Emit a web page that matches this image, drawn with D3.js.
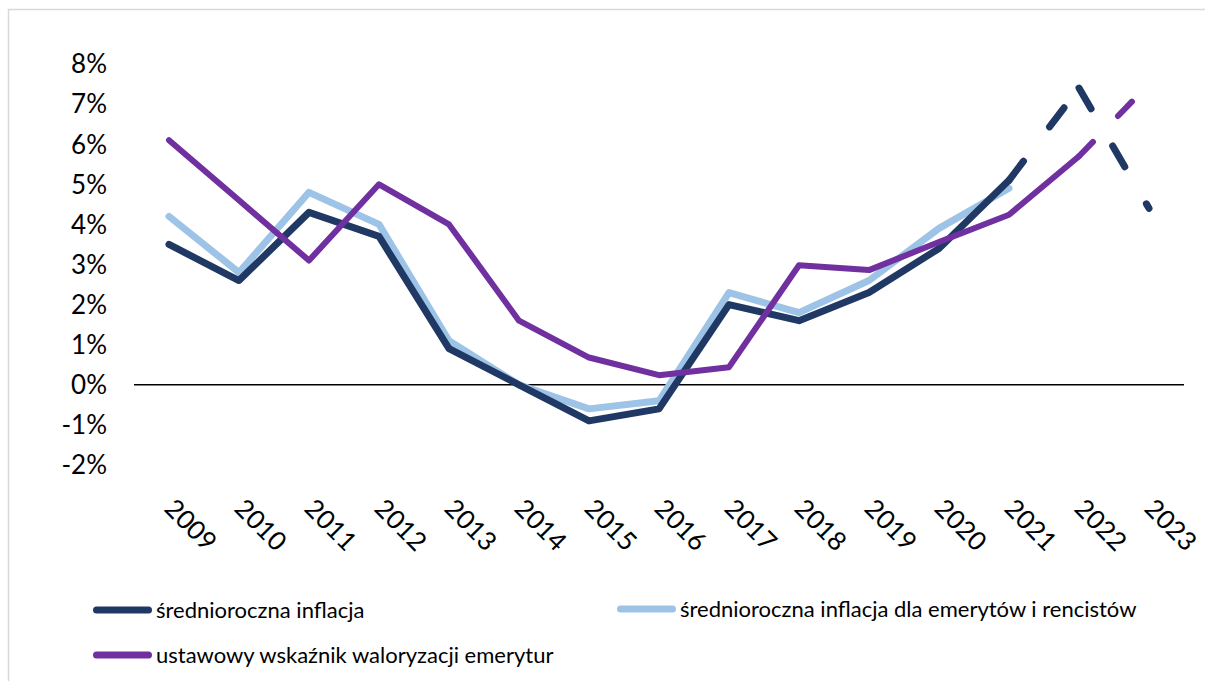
<!DOCTYPE html>
<html>
<head>
<meta charset="utf-8">
<script src="https://cdn.jsdelivr.net/npm/d3@7"></script>
<style>
  body { margin: 0; background: #fff; }
  text { font-family: Lato, "Noto Sans", sans-serif; fill: #000; }
</style>
</head>
<body>
<script>
const width = 1205;
const height = 681;

const years = ['2009', '2010', '2011', '2012', '2013', '2014', '2015', '2016', '2017', '2018', '2019', '2020', '2021', '2022', '2023'];
const yTicks = [-2, -1, 0, 1, 2, 3, 4, 5, 6, 7, 8];

// values in %, null = no data
const inflation = [3.5, 2.6, 4.3, 3.7, 0.9, 0.0, -0.9, -0.6, 2.0, 1.6, 2.3, 3.4, 5.1, 7.4, 4.4];
const inflationPensioners = [4.2, 2.8, 4.8, 4.0, 1.1, 0.0, -0.6, -0.4, 2.3, 1.8, 2.6, 3.9, 4.9, null, null];
const valorization = [6.1, 4.6, 3.1, 5.0, 4.0, 1.6, 0.68, 0.24, 0.44, 2.98, 2.86, 3.56, 4.24, 5.7, 7.5];

const series = [
    { name: 'średnioroczna inflacja', values: inflation, color: '#203864', width: 7, dash: '24,43', dashFrom: '2021' },
    { name: 'średnioroczna inflacja dla emerytów i rencistów', values: inflationPensioners, color: '#9dc3e6', width: 7, dash: null, dashFrom: null },
    { name: 'ustawowy wskaźnik waloryzacji emerytur', values: valorization, color: '#7030a0', width: 6, dash: '20,36', dashFrom: '2022' }
];
// draw order: light blue below dark below purple
const drawOrder = [1, 0, 2];

const svg = d3.select('body').append('svg').attr('width', width).attr('height', height);

svg.append('rect').attr('x', 8.5).attr('y', 9.5).attr('width', width).attr('height', height)
    .style('fill', 'none').style('stroke', '#d9d9d9').style('stroke-width', 1.5);

const x = d3.scalePoint().domain(years).range([134, 1184]).padding(0.5);
const y = d3.scaleLinear().domain([-2, 8]).range([465, 64]);

// y tick labels
svg.selectAll('text.ytick').data(yTicks).enter().append('text').classed('ytick', true)
    .attr('x', 107).attr('y', d => y(d)).attr('dy', '0.36em')
    .style('text-anchor', 'end').style('font-size', '26px')
    .text(d => d + '%');

// zero line
svg.append('line').attr('x1', 134).attr('x2', 1184).attr('y1', y(0)).attr('y2', y(0))
    .style('stroke', '#000').style('stroke-width', 1.5);

// x tick labels, rotated
svg.selectAll('text.xtick').data(years).enter().append('text').classed('xtick', true)
    .attr('transform', d => `translate(${x(d) - 6},510) rotate(45)`)
    .style('text-anchor', 'start').style('font-size', '26px')
    .text(d => d);

const line = d3.line()
    .defined(d => d.v !== null)
    .x(d => x(d.year))
    .y(d => y(d.v));

drawOrder.forEach(i => {
    const s = series[i];
    const pts = years.map((yr, j) => ({ year: yr, v: s.values[j] }));
    const cut = s.dashFrom ? years.indexOf(s.dashFrom) : pts.length - 1;
    const solid = pts.slice(0, cut + 1);

    svg.append('path').datum(solid).attr('d', line)
        .style('fill', 'none').style('stroke', s.color).style('stroke-width', s.width)
        .style('stroke-linejoin', 'round').style('stroke-linecap', 'round');

    if (s.dashFrom) {
        // dash pattern restarts at every point, one path per segment
        for (let j = cut; j < pts.length - 1; j++) {
            if (pts[j].v === null || pts[j + 1].v === null) continue;
            svg.append('path').datum([pts[j], pts[j + 1]]).attr('d', line)
                .style('fill', 'none').style('stroke', s.color).style('stroke-width', s.width)
                .style('stroke-linecap', 'round').style('stroke-dasharray', s.dash);
        }
    }
});

// legend
const legendPos = [
    { x: 93, y: 610 },
    { x: 617, y: 609 },
    { x: 93, y: 655 }
];
series.forEach((s, i) => {
    const p = legendPos[i];
    svg.append('line').attr('x1', p.x + 3.5).attr('x2', p.x + 55.5).attr('y1', p.y).attr('y2', p.y)
        .style('stroke', s.color).style('stroke-width', 7).style('stroke-linecap', 'round');
    svg.append('text').attr('x', p.x + 63).attr('y', p.y).attr('dy', '0.35em')
        .style('font-size', '22px')
        .text(s.name);
});
</script>
</body>
</html>
